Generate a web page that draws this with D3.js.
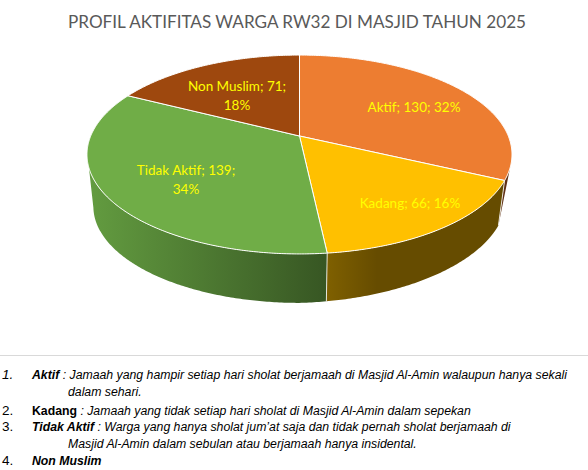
<!DOCTYPE html>
<html>
<head>
<meta charset="utf-8">
<script src="https://cdn.jsdelivr.net/npm/d3@7"></script>
<style>
html, body { margin: 0; padding: 0; background: #fff; overflow: hidden; }
svg { display: block; }
</style>
</head>
<body>
<script>
// data
var categories = ['Aktif', 'Kadang', 'Tidak Aktif', 'Non Muslim'];
var values = [130, 66, 139, 71];
var percents = [32, 16, 34, 18];
var topColors = ['#ED7D31', '#FFC000', '#70AD47', '#9E480E'];
var wallFrom = ['#5F3014', '#7F6000', '#639C40', '#5F2B08'];
var wallTo = ['#5F3014', '#664C00', '#375623', '#5F2B08'];
var titleText = 'PROFIL AKTIFITAS WARGA RW32 DI MASJID TAHUN 2025';
var notes = [
    {num: '1.', bold: 'Aktif', bi: true, rest: ' : Jamaah yang hampir setiap hari sholat berjamaah di Masjid Al-Amin walaupun hanya sekali'},
    {rest: 'dalam sehari.'},
    {num: '2.', bold: 'Kadang', bi: false, rest: ' : Jamaah yang tidak setiap hari sholat di Masjid Al-Amin dalam sepekan'},
    {num: '3.', bold: 'Tidak Aktif', bi: true, rest: ' : Warga yang hanya sholat jum\u2019at saja dan tidak pernah sholat berjamaah di'},
    {rest: 'Masjid Al-Amin dalam sebulan atau berjamaah hanya insidental.'},
    {num: '4.', bold: 'Non Muslim', bi: true, rest: ''}
];

var w = 588;
var h = 470;

// pie geometry, the 3D look is a perspective projection of a flat circle
var cx = 299.5;
var cy = 136;
var R = 208.8;
var ySquash = 96;
var persp = 0.186;
var depth = 52.5;
var bottomScale = 0.97;
var rad = Math.PI / 180;

// how far round the wall shows, top rim and bottom rim differ a bit
var topLimits = [108.3 * rad, 251.7 * rad];
var bottomLimits = [115.3 * rad, 258.5 * rad];

function project(angle, level) {
    var u = Math.sin(angle);
    var v = -Math.cos(angle);
    var k = 1 - persp * v;
    if (!level) return [cx + R * u / k, cy + ySquash * v / k];
    return [
        cx + bottomScale * R * u / k,
        cy + depth + bottomScale * ySquash * v / k - 7 * Math.max(0, u)
    ];
}

function arcPoints(a0, a1, level) {
    var n = Math.max(2, Math.ceil((a1 - a0) / 0.01));
    return d3.range(n + 1).map(function(i) {
        return project(a0 + (a1 - a0) * i / n, level);
    });
}

var line = d3.line();

var pie = d3.pie().sort(null);
var slices = pie(values);

var svg = d3.select('body')
    .append('svg')
    .attr('width', w)
    .attr('height', h)
    .style('background', '#fff');

var defs = svg.append('defs');

// walls first, only the part facing the viewer
slices.forEach(function(d, i) {
    var t0 = Math.max(d.startAngle, topLimits[0]);
    var t1 = Math.min(d.endAngle, topLimits[1]);
    if (t0 >= t1) return;
    var b0 = Math.max(d.startAngle, bottomLimits[0]);
    var b1 = Math.max(b0, Math.min(d.endAngle, bottomLimits[1]));

    var x0 = project(d.endAngle, 0)[0];
    var x1 = project(d.startAngle, 0)[0];
    var grad = defs.append('linearGradient')
        .attr('id', 'wall' + i)
        .attr('gradientUnits', 'userSpaceOnUse')
        .attr('x1', i == 2 ? 88 : Math.min(x0, x1))
        .attr('x2', i == 2 ? 327 : (i == 1 ? 327 + 50 : Math.max(x0, x1)))
        .attr('y1', 0)
        .attr('y2', 0);
    grad.append('stop').attr('offset', 0).attr('stop-color', wallFrom[i]);
    grad.append('stop').attr('offset', 1).attr('stop-color', wallTo[i]);

    var pts = arcPoints(t0, t1, 0).concat(arcPoints(b0, b1, 1).reverse());
    svg.append('path')
        .attr('d', line(pts) + 'Z')
        .attr('fill', 'url(#wall' + i + ')');
});

// front seams on the wall
slices.forEach(function(d) {
    if (d.endAngle > Math.PI / 2 && d.endAngle < Math.PI * 1.4) {
        svg.append('path')
            .attr('d', line([project(d.endAngle, 0), project(d.endAngle, 1)]))
            .attr('stroke', '#fff')
            .attr('stroke-opacity', 0.8)
            .attr('stroke-width', 1);
    }
});

// top face
svg.selectAll('path.top')
    .data(slices)
    .enter()
    .append('path')
    .attr('class', 'top')
    .attr('d', function(d) {
        return line([[cx, cy]].concat(arcPoints(d.startAngle, d.endAngle, 0))) + 'Z';
    })
    .attr('fill', function(d, i) { return topColors[i]; })
    .attr('stroke', '#fff')
    .attr('stroke-width', 1)
    .attr('stroke-linejoin', 'round');

// title
svg.append('text')
    .attr('x', 68)
    .attr('y', 28)
    .attr('font-family', 'Lato')
    .attr('font-size', 18)
    .attr('textLength', 458)
    .attr('lengthAdjust', 'spacingAndGlyphs')
    .attr('fill', '#595959')
    .text(titleText);

// data labels
var labelLayout = [
    {x: 414, y: 112, lines: 1},
    {x: 410, y: 208, lines: 1},
    {x: 186, y: 175, lines: 2},
    {x: 237, y: 91, lines: 2}
];

slices.forEach(function(d, i) {
    var head = categories[i] + '; ' + d.value + ';';
    var pct = percents[i] + '%';
    var rows = labelLayout[i].lines == 1 ? [head + ' ' + pct] : [head, pct];
    rows.forEach(function(t, j) {
        svg.append('text')
            .attr('x', labelLayout[i].x)
            .attr('y', labelLayout[i].y + j * 19)
            .attr('text-anchor', 'middle')
            .attr('font-family', 'Lato')
            .attr('font-size', 13.5)
            .attr('fill', '#FFFF00')
            .text(t);
    });
});

// divider and notes below
svg.append('line')
    .attr('x1', 0)
    .attr('x2', w)
    .attr('y1', 355.5)
    .attr('y2', 355.5)
    .attr('stroke', '#D9D9D9');

var noteBaselines = [379, 396, 415, 431, 448, 465];
var noteFont = 'Liberation Sans';
var narrow = 0.91;

notes.forEach(function(n, i) {
    var y = noteBaselines[i];
    if (n.num) {
        svg.append('text')
            .attr('x', 2)
            .attr('y', y)
            .attr('font-family', noteFont)
            .attr('font-style', n.num == '1.' ? 'italic' : 'normal')
            .attr('font-size', 13.5)
            .attr('fill', '#000')
            .text(n.num);
    }
    var t = svg.append('text')
        .attr('transform', 'translate(' + (n.num ? 32 : 68) + ',' + y + ') scale(' + narrow + ',1)')
        .attr('font-family', noteFont)
        .attr('font-size', 13.5)
        .attr('fill', '#000');
    if (n.bold) {
        t.append('tspan')
            .attr('font-weight', 'bold')
            .attr('font-style', n.bi ? 'italic' : 'normal')
            .text(n.bold);
    }
    t.append('tspan')
        .attr('font-style', 'italic')
        .text(n.rest);
});
</script>
</body>
</html>
